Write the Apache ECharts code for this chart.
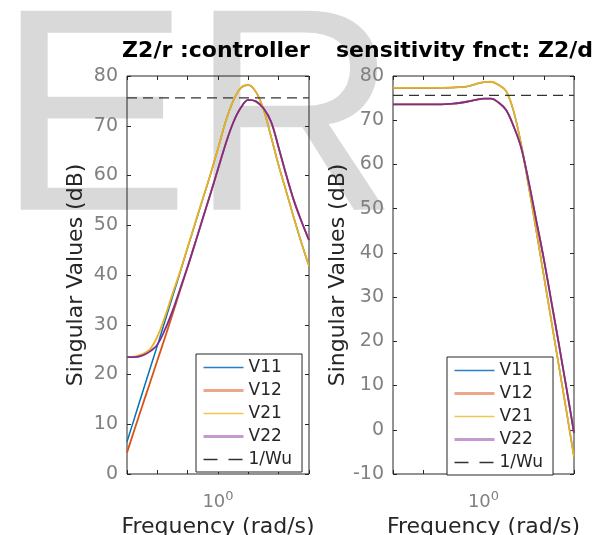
<!DOCTYPE html>
<html>
<head>
<meta charset="utf-8">
<script src="https://cdn.jsdelivr.net/npm/echarts@6/dist/echarts.min.js"></script>
<style>
  html, body { margin: 0; padding: 0; background: #fff; }
  #chart { width: 604px; height: 535px; }
</style>
</head>
<body>
<div id="chart"></div>
<script>
// log10 of frequency (rad/s), shared by both panels
const logW = [-0.3, -0.275, -0.25, -0.225, -0.2, -0.175, -0.15, -0.125, -0.1, -0.075, -0.05, -0.025,
  0, 0.025, 0.05, 0.075, 0.1, 0.125, 0.15, 0.175, 0.2, 0.225, 0.25, 0.275, 0.3]

// Z2/r : controller (dB)
const ctrlV11 = [6.5, 11.3, 16.2, 21.0, 25.8, 30.7, 35.6, 40.5, 45.5, 50.4, 55.3, 60.2,
  65.4, 70.8, 75.0, 77.6, 78.2, 76.8, 73.3, 67.8, 62.0, 56.8, 51.5, 46.5, 41.8]
const ctrlV12 = [4.3, 9.0, 13.6, 18.2, 22.8, 27.4, 32.1, 36.9, 41.6, 46.5, 51.4, 56.3,
  61.3, 66.3, 70.6, 73.6, 75.2, 74.9, 73.5, 70.8, 65.6, 60.1, 55.0, 50.8, 47.0]
const ctrlV21 = [23.5, 23.6, 24.1, 25.0, 27.6, 31.6, 36.2, 40.7, 45.6, 50.5, 55.4, 60.2,
  65.4, 70.8, 75.0, 77.6, 78.2, 76.8, 73.3, 67.8, 62.0, 56.8, 51.5, 46.5, 41.8]
const ctrlV22 = [23.5, 23.5, 23.8, 24.6, 26.0, 29.0, 32.8, 37.2, 41.7, 46.5, 51.4, 56.3,
  61.3, 66.3, 70.6, 73.6, 75.2, 74.9, 73.5, 70.8, 65.6, 60.1, 55.0, 50.8, 47.0]

// sensitivity fnct: Z2/d (dB)
const sensV11 = [77.3, 77.3, 77.3, 77.3, 77.3, 77.3, 77.3, 77.35, 77.4, 77.5, 77.7, 78.2,
  78.6, 78.7, 78.0, 76.6, 72.0, 64.5, 55.0, 45.0, 34.8, 24.6, 14.4, 4.2, -6.1]
const sensV12 = [73.6, 73.6, 73.6, 73.6, 73.6, 73.6, 73.6, 73.65, 73.75, 73.95, 74.25, 74.6,
  74.9, 74.9, 74.0, 72.3, 68.6, 63.8, 56.0, 47.3, 38.6, 29.0, 19.3, 9.4, -0.7]
const sensV21 = [77.3, 77.3, 77.3, 77.3, 77.3, 77.3, 77.3, 77.35, 77.4, 77.5, 77.7, 78.2,
  78.6, 78.7, 78.0, 76.6, 72.0, 64.5, 55.0, 45.0, 34.8, 24.6, 14.4, 4.2, -6.1]
const sensV22 = [73.6, 73.6, 73.6, 73.6, 73.6, 73.6, 73.6, 73.65, 73.75, 73.95, 74.25, 74.6,
  74.9, 74.9, 74.0, 72.3, 68.6, 63.8, 56.0, 47.3, 38.6, 29.0, 19.3, 9.4, -0.7]

// 1/Wu bound (dB)
const invWu = [75.6, 75.6]

const yTicksCtrl = { min: 0, max: 80, interval: 10 }
const yTicksSens = { min: -10, max: 80, interval: 10 }

const FONT = 'DejaVu Sans'
const colors = ['#0072BD', '#D95319', '#EDB120', '#7E2F8E']

const pairs = ys => ys.map((v, i) => [logW[i], v])

function curve(name, idx, data, color, width) {
  return {
    name: name, type: 'line', xAxisIndex: idx, yAxisIndex: idx,
    data: pairs(data), showSymbol: false, symbol: 'none',
    smooth: 0.35,
    lineStyle: { color: color, width: width },
    itemStyle: { color: color },
    animation: false
  }
}
function bound(idx) {
  return {
    name: '1/Wu', type: 'line', xAxisIndex: idx, yAxisIndex: idx,
    data: [[logW[0], invWu[0]], [logW[logW.length - 1], invWu[1]]],
    showSymbol: false, symbol: 'none',
    lineStyle: { color: '#333', width: 1.2, type: [10, 6] },
    itemStyle: { color: '#333' },
    animation: false, z: 5
  }
}

function xAxes(grid) {
  const base = {
    gridIndex: grid, type: 'value', min: -0.3, max: 0.3, interval: 0.1,
    axisLine: { show: false, onZero: false }, splitLine: { show: false },
    axisTick: { inside: true, length: 4, lineStyle: { color: '#262626' } }
  }
  return [
    Object.assign({}, base, {
      position: 'bottom',
      axisLabel: {
        margin: 16,
        formatter: v => Math.abs(v) < 1e-6 ? '{m|10}{s|0}' : '',
        rich: {
          m: { fontSize: 18, fontFamily: FONT, color: '#808080', lineHeight: 24 },
          s: { fontSize: 13, fontFamily: FONT, color: '#808080', verticalAlign: 'top', lineHeight: 24 }
        }
      },
      name: 'Frequency (rad/s)', nameLocation: 'middle', nameGap: 41,
      nameTextStyle: { fontSize: 22, fontFamily: FONT, color: '#262626' }
    }),
    Object.assign({}, base, { position: 'top', axisLabel: { show: false } })
  ]
}
function yAxes(grid, t) {
  const base = {
    gridIndex: grid, type: 'value', min: t.min, max: t.max, interval: t.interval,
    axisLine: { show: false, onZero: false }, splitLine: { show: false },
    axisTick: { inside: true, length: 4, lineStyle: { color: '#262626' } }
  }
  return [
    Object.assign({}, base, {
      position: 'left',
      axisLabel: { margin: 9, fontSize: 19, fontFamily: FONT, color: '#808080' },
      name: 'Singular Values (dB)', nameLocation: 'middle', nameGap: 40,
      nameTextStyle: { fontSize: 22, fontFamily: FONT, color: '#262626' }
    }),
    Object.assign({}, base, { position: 'right', axisLabel: { show: false } })
  ]
}

const hideDot = { color: 'rgba(0,0,0,0)', borderColor: 'rgba(0,0,0,0)', borderWidth: 0, opacity: 0 }
const legendData = [
  { name: 'V11', itemStyle: hideDot, lineStyle: { color: '#2a80c8', width: 1.5 } },
  { name: 'V12', itemStyle: hideDot, lineStyle: { color: '#eea68a', width: 3 } },
  { name: 'V21', itemStyle: hideDot, lineStyle: { color: '#f4c54e', width: 1.5 } },
  { name: 'V22', itemStyle: hideDot, lineStyle: { color: '#c49bd0', width: 3 } },
  { name: '1/Wu', itemStyle: hideDot, lineStyle: { color: '#333', width: 1.5, type: [14, 11] } }
]
function legend(left, top) {
  return {
    data: legendData, orient: 'vertical', left: left, top: top,
    backgroundColor: '#fff', borderColor: '#262626', borderWidth: 1,
    padding: [5, 10, 4, 6], itemGap: 6, itemWidth: 40, itemHeight: 17,
    selectedMode: false,
    textStyle: { fontSize: 17, fontFamily: FONT, color: '#262626' }
  }
}

const gridBase = {
  top: 76, height: 398, show: true, borderColor: '#262626', borderWidth: 1,
  backgroundColor: 'transparent', containLabel: false, outerBoundsMode: 'none'
}

const chart = echarts.init(document.getElementById('chart'), null, { renderer: 'canvas' })
chart.setOption({
  animation: false,
  backgroundColor: '#fff',
  graphic: [
    {
      type: 'text', x: -3, y: 130, z: -100, silent: true,
      style: { text: 'ER', font: '289px "Liberation Sans"', fill: '#d9d9d9', verticalAlign: 'middle' }
    },
    {
      type: 'text', x: 216, y: 51, z: 10,
      style: { text: 'Z2/r :controller', font: 'bold 22px "DejaVu Sans"', fill: '#000', align: 'center', verticalAlign: 'middle' }
    },
    {
      type: 'text', x: 336, y: 51, z: 10,
      style: { text: 'sensitivity fnct: Z2/d', font: 'bold 22px "DejaVu Sans"', fill: '#000', align: 'left', verticalAlign: 'middle' }
    }
  ],
  grid: [
    Object.assign({ left: 127, width: 182 }, gridBase),
    Object.assign({ left: 393, width: 181 }, gridBase)
  ],
  xAxis: xAxes(0).concat(xAxes(1)),
  yAxis: yAxes(0, yTicksCtrl).concat(yAxes(1, yTicksSens)),
  legend: [legend(196, 354), legend(447, 357)],
  series: [
    curve('V11', 0, ctrlV11, colors[0], 1.5),
    curve('V12', 0, ctrlV12, colors[1], 1.8),
    curve('V21', 0, ctrlV21, colors[2], 1.8),
    curve('V22', 0, ctrlV22, colors[3], 1.8),
    bound(0),
    curve('V11', 2, sensV11, colors[0], 1.5),
    curve('V12', 2, sensV12, colors[1], 1.8),
    curve('V21', 2, sensV21, colors[2], 1.8),
    curve('V22', 2, sensV22, colors[3], 1.8),
    bound(2)
  ]
})
</script>
</body>
</html>
